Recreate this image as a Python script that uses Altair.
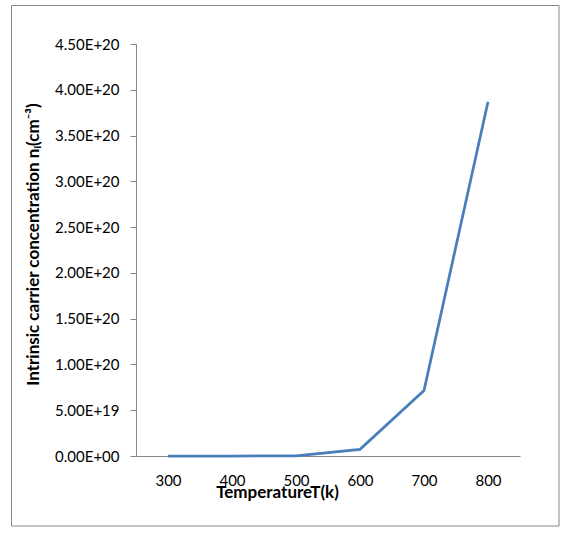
import altair as alt
import pandas as pd

temperatures = ["300", "400", "500", "600", "700", "800"]
ni_values = [1.0e10, 1.0e14, 5.0e16, 7.3e18, 7.15e19, 3.87e20]
y_ticks = [0, 5e19, 1e20, 1.5e20, 2e20, 2.5e20, 3e20, 3.5e20, 4e20, 4.5e20]

df = pd.DataFrame({"T": temperatures, "ni": ni_values})

FONT = "Lato"

line = alt.Chart(df).mark_line(color="#4a7ebb", strokeWidth=2.75).encode(
    x=alt.X(
        "T:O",
        sort=temperatures,
        scale=alt.Scale(type="point", padding=0.5),
        axis=alt.Axis(
            title="TemperatureT(k)",
            labelAngle=0,
            ticks=False,
            tickSize=0,
            labelPadding=17,
            labelFont=FONT,
            labelFontSize=15,
            labelColor="#000000",
            domainColor="#868686",
            titleFont=FONT,
            titleFontSize=17,
            titleFontWeight="bold",
            titleColor="#000000",
            titleX=141,
            titleY=41,
            titleAlign="center",
            titleBaseline="alphabetic",
            grid=False,
        ),
    ),
    y=alt.Y(
        "ni:Q",
        scale=alt.Scale(domain=[0, 4.5e20], nice=False, zero=True),
        axis=alt.Axis(
            title="Intrinsic carrier concentration nᵢ(cm⁻³)",
            values=y_ticks,
            labelExpr="datum.value == 0 ? '0.00E+00' : upper(format(datum.value, '.2e'))",
            tickSize=6,
            tickColor="#868686",
            domainColor="#868686",
            labelPadding=11,
            labelFont=FONT,
            labelFontSize=15,
            labelColor="#000000",
            titleFont=FONT,
            titleFontSize=17,
            titleFontWeight="bold",
            titleColor="#000000",
            titleAngle=270,
            titleX=-103,
            titleY=200,
            titleAlign="center",
            titleBaseline="middle",
            grid=False,
        ),
    ),
)

border = alt.Chart(alt.Data(values=[{}])).mark_rect(
    fill="transparent", stroke="#868686", strokeWidth=1
).encode(
    x=alt.value(-124.5),
    x2=alt.value(423),
    y=alt.value(-38.5),
    y2=alt.value(482),
)

chart = (
    alt.layer(border, line)
    .properties(
        width=384,
        height=412,
        autosize=alt.AutoSizeParams(type="none"),
        padding={"left": 136, "top": 44, "right": 45, "bottom": 77},
        background="#ffffff",
    )
    .configure_view(stroke=None)
)

chart.save("out.html", embed_options={"renderer": "svg", "actions": False})
